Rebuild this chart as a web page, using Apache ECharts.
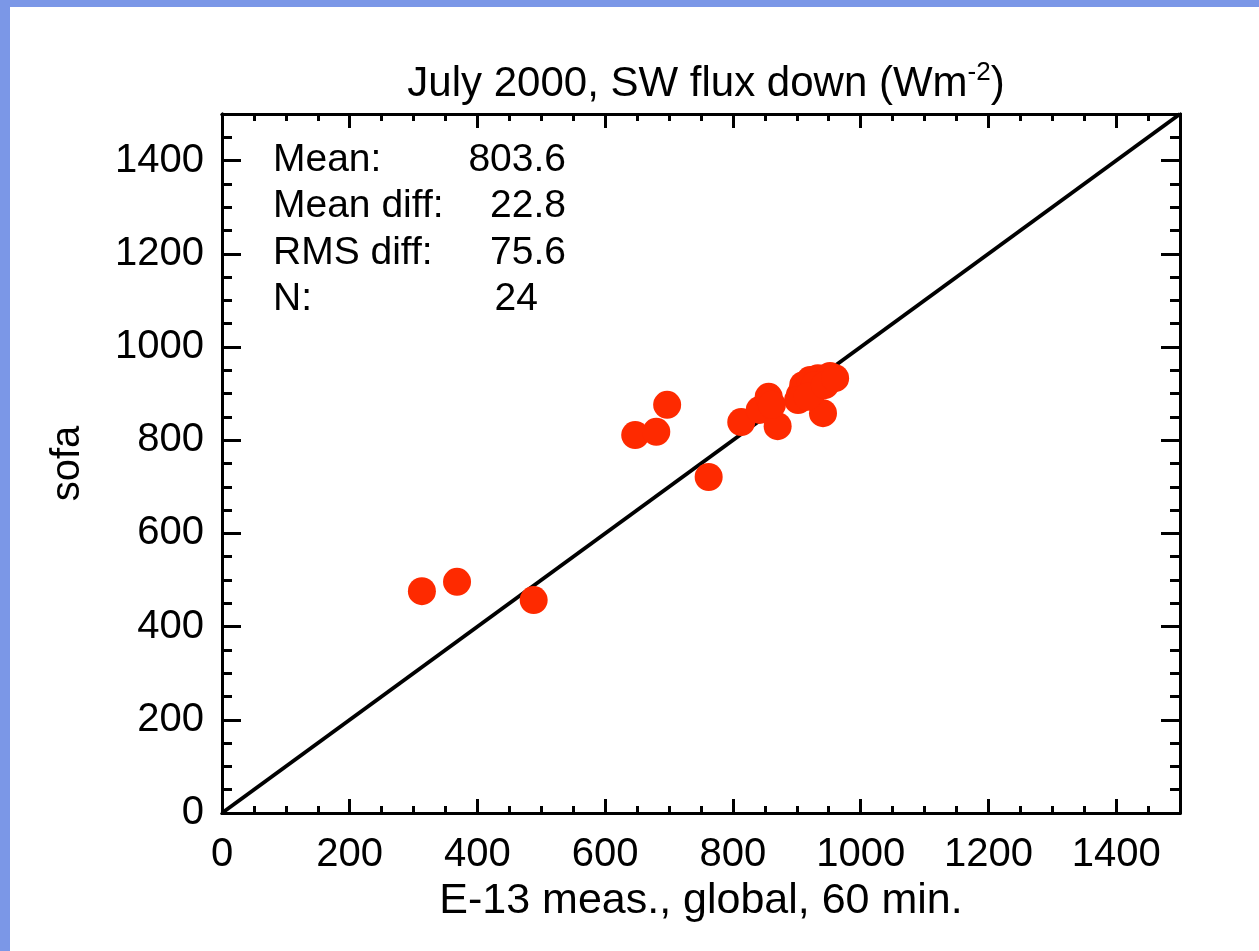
<!DOCTYPE html>
<html>
<head>
<meta charset="utf-8">
<script src="https://cdn.jsdelivr.net/npm/echarts@6/dist/echarts.min.js"></script>
<style>
html,body{margin:0;padding:0;background:#fff;}
#chart{width:1259px;height:951px;}
</style>
</head>
<body>
<div id="chart"></div>
<script>
// Data
const measX = [313,368,488,647,680,697,762,813,842,856,870,905,910,921,933,952,941,924,902,928,917,944,861,960];
const sofaY = [476,496,457,811,818,876,721,839,865,893,830,897,918,929,933,938,858,903,886,918,893,918,876,933];
const oneToOne = [[0,0],[1500,1500]];
const statLabels = ['Mean:','Mean diff:','RMS diff:','N:'];
const statValues = ['803.6','22.8','75.6','24'];
const titleMain = 'July 2000, SW flux down (Wm';
const titleSup = '-2';
const xName = 'E-13 meas., global, 60 min.';
const yName = 'sofa';

const FONT = '"Liberation Sans", Arial, Helvetica, sans-serif';
const points = measX.map((x, i) => [x, sofaY[i]]);

function axisCommon(extra) {
  return Object.assign({
    type: 'value', min: 0, max: 1500,
    splitLine: { show: false },
    axisLine: { show: true, onZero: false, lineStyle: { color: '#000', width: 3 } },
    axisLabel: { show: false },
    axisTick: { show: true, inside: true, lineStyle: { color: '#000', width: 3 } }
  }, extra);
}
const labelStyle = { show: true, fontSize: 40, color: '#000', fontFamily: FONT, showMaxLabel: false,
  formatter: v => String(v) };

const xAxes = [
  axisCommon({ position: 'bottom', interval: 200, axisTick: { show: true, inside: true, length: 14, lineStyle: { color: '#000', width: 3 } },
    axisLabel: Object.assign({ margin: 22 }, labelStyle),
    name: xName, nameLocation: 'middle', nameGap: 58,
    nameTextStyle: { fontSize: 43, color: '#000', fontFamily: FONT } }),
  axisCommon({ position: 'bottom', interval: 50, axisTick: { show: true, inside: true, length: 7, lineStyle: { color: '#000', width: 3 } } }),
  axisCommon({ position: 'top', interval: 200, axisTick: { show: true, inside: true, length: 14, lineStyle: { color: '#000', width: 3 } } }),
  axisCommon({ position: 'top', interval: 50, axisTick: { show: true, inside: true, length: 7, lineStyle: { color: '#000', width: 3 } } })
];
const yAxes = [
  axisCommon({ position: 'left', interval: 200, axisTick: { show: true, inside: true, length: 19, lineStyle: { color: '#000', width: 3 } },
    axisLabel: Object.assign({ margin: 18 }, labelStyle),
    name: yName, nameLocation: 'middle', nameGap: 134, nameRotate: 90,
    nameTextStyle: { fontSize: 40, color: '#000', fontFamily: FONT } }),
  axisCommon({ position: 'left', interval: 50, axisTick: { show: true, inside: true, length: 10, lineStyle: { color: '#000', width: 3 } } }),
  axisCommon({ position: 'right', interval: 200, axisTick: { show: true, inside: true, length: 19, lineStyle: { color: '#000', width: 3 } } }),
  axisCommon({ position: 'right', interval: 50, axisTick: { show: true, inside: true, length: 10, lineStyle: { color: '#000', width: 3 } } })
];

const statRowTop = 160, statRowStep = 46.5;
const graphics = [
  { type: 'rect', left: 0, top: 0, shape: { width: 10, height: 951 }, style: { fill: '#7b97e7' }, silent: true },
  { type: 'rect', left: 0, top: 0, shape: { width: 1259, height: 7 }, style: { fill: '#7b97e7' }, silent: true }
];
statLabels.forEach((t, i) => {
  graphics.push({ type: 'text', x: 273, y: statRowTop + i * statRowStep,
    style: { text: t, fontSize: 39, fontFamily: FONT, fill: '#000', textAlign: 'left', textVerticalAlign: 'middle' } });
});
statValues.forEach((t, i) => {
  const last = i === statValues.length - 1;
  graphics.push({ type: 'text', x: last ? 538 : 566, y: statRowTop + i * statRowStep,
    style: { text: t, fontSize: 39, fontFamily: FONT, fill: '#000', textAlign: 'right', textVerticalAlign: 'middle' } });
});

const chart = echarts.init(document.getElementById('chart'), null, { renderer: 'canvas' });
chart.setOption({
  backgroundColor: '#fff',
  animation: false,
  title: {
    text: '{a|' + titleMain + '}{s|' + titleSup + '}{a|)}',
    left: 701, textAlign: 'center', top: 55,
    textStyle: {
      fontWeight: 'normal',
      rich: {
        a: { fontSize: 42, fontFamily: FONT, color: '#000', fontWeight: 'normal', lineHeight: 48 },
        s: { fontSize: 26, fontFamily: FONT, color: '#000', fontWeight: 'normal', verticalAlign: 'top', lineHeight: 48, padding: [0, 0, 14, 0] }
      }
    }
  },
  grid: { left: 222, right: 79, top: 114, bottom: 138, containLabel: false },
  xAxis: xAxes,
  yAxis: yAxes,
  graphic: graphics,
  series: [
    { type: 'line', data: oneToOne, xAxisIndex: 0, yAxisIndex: 0, showSymbol: false, symbol: 'none',
      lineStyle: { color: '#000', width: 4 }, z: 2, silent: true },
    { type: 'scatter', data: points, xAxisIndex: 0, yAxisIndex: 0, symbol: 'circle', symbolSize: 28,
      itemStyle: { color: '#fe2a00', opacity: 1 }, z: 3 }
  ]
});
</script>
</body>
</html>
